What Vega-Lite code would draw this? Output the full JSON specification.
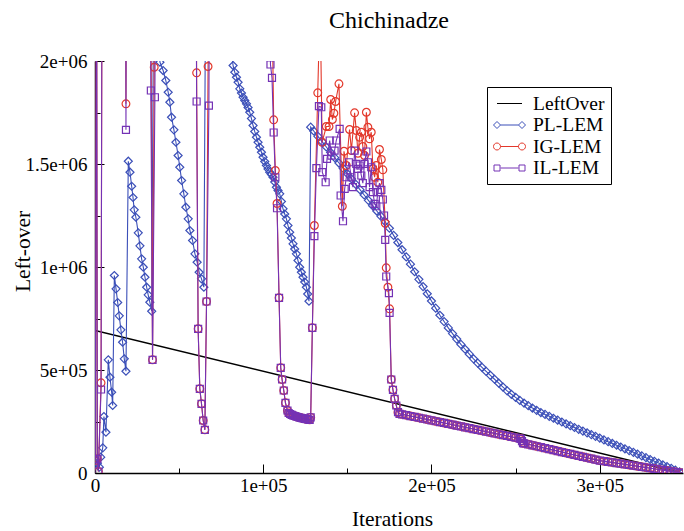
{
"$schema": "https://vega.github.io/schema/vega-lite/v6.json",
"width": 588, "height": 412,
"autosize": {"type": "none"},
"padding": {"left": 95, "top": 61, "right": 1, "bottom": 58},
"background": "white",
"title": {"text": "Chichinadze", "font": "Liberation Serif", "fontSize": 24, "fontWeight": "normal", "color": "black", "anchor": "middle", "frame": "group", "baseline": "alphabetic", "offset": 0},
"config": {"view": {"stroke": null}, "axis": {"labelFont": "Liberation Serif", "labelFontSize": 19, "labelColor": "black", "titleFont": "Liberation Serif", "titleFontSize": 21.5, "titleFontWeight": "normal", "titleColor": "black", "domainColor": "black", "domainWidth": 1.5, "tickColor": "black", "tickWidth": 1, "grid": false, "labelFlush": false, "labelOverlap": false}},
"datasets": {"rows": [
{"series":"LeftOver","iter":0,"left":692000},{"series":"LeftOver","iter":348600,"left":0},
{"series":"PL-LEM","iter":100,"left":66000},{"series":"PL-LEM","iter":1400,"left":47600},{"series":"PL-LEM","iter":2600,"left":28200},{"series":"PL-LEM","iter":3400,"left":76700},{"series":"PL-LEM","iter":4600,"left":122300},{"series":"PL-LEM","iter":5300,"left":274300},{"series":"PL-LEM","iter":6500,"left":198000},{"series":"PL-LEM","iter":7900,"left":549500},{"series":"PL-LEM","iter":8900,"left":465000},{"series":"PL-LEM","iter":9900,"left":392200},{"series":"PL-LEM","iter":10500,"left":327600},{"series":"PL-LEM","iter":11500,"left":958700},{"series":"PL-LEM","iter":12500,"left":894100},{"series":"PL-LEM","iter":13500,"left":827600},{"series":"PL-LEM","iter":14400,"left":763000},{"series":"PL-LEM","iter":15400,"left":695100},{"series":"PL-LEM","iter":16400,"left":634900},{"series":"PL-LEM","iter":17400,"left":554300},{"series":"PL-LEM","iter":18400,"left":494100},
{"series":"PL-LEM","iter":19800,"left":1513500},{"series":"PL-LEM","iter":20800,"left":1460100},{"series":"PL-LEM","iter":21800,"left":1392100},{"series":"PL-LEM","iter":22600,"left":1337300},{"series":"PL-LEM","iter":23300,"left":1277600},{"series":"PL-LEM","iter":24300,"left":1241600},{"series":"PL-LEM","iter":25700,"left":1165900},{"series":"PL-LEM","iter":26700,"left":1102800},{"series":"PL-LEM","iter":27700,"left":1039700},{"series":"PL-LEM","iter":28700,"left":999000},{"series":"PL-LEM","iter":29700,"left":950400},{"series":"PL-LEM","iter":30700,"left":901900},{"series":"PL-LEM","iter":31600,"left":865000},{"series":"PL-LEM","iter":32600,"left":829100},{"series":"PL-LEM","iter":33700,"left":785400},{"series":"PL-LEM","iter":35300,"left":3000000},
{"series":"PL-LEM","iter":38600,"left":1994000},{"series":"PL-LEM","iter":40500,"left":1953700},{"series":"PL-LEM","iter":42100,"left":1905200},{"series":"PL-LEM","iter":43500,"left":1848400},{"series":"PL-LEM","iter":44500,"left":1799900},{"series":"PL-LEM","iter":45500,"left":1727100},{"series":"PL-LEM","iter":46900,"left":1665900},{"series":"PL-LEM","iter":48100,"left":1605700},{"series":"PL-LEM","iter":49400,"left":1541100},{"series":"PL-LEM","iter":50400,"left":1484300},{"series":"PL-LEM","iter":51500,"left":1419800},{"series":"PL-LEM","iter":52800,"left":1355200},{"series":"PL-LEM","iter":54000,"left":1290200},{"series":"PL-LEM","iter":55400,"left":1233900},{"series":"PL-LEM","iter":56400,"left":1177100},{"series":"PL-LEM","iter":58000,"left":1128600},{"series":"PL-LEM","iter":59400,"left":1064000},{"series":"PL-LEM","iter":60700,"left":1023200},{"series":"PL-LEM","iter":61900,"left":974700},{"series":"PL-LEM","iter":63300,"left":942600},{"series":"PL-LEM","iter":64700,"left":901900},{"series":"PL-LEM","iter":66200,"left":3000000},
{"series":"PL-LEM","iter":82080,"left":1978000},{"series":"PL-LEM","iter":83090,"left":1945500},{"series":"PL-LEM","iter":84100,"left":1921200},{"series":"PL-LEM","iter":85050,"left":1897000},{"series":"PL-LEM","iter":86060,"left":1864900},{"series":"PL-LEM","iter":87070,"left":1844500},{"series":"PL-LEM","iter":88020,"left":1824100},{"series":"PL-LEM","iter":89030,"left":1808100},{"series":"PL-LEM","iter":90030,"left":1792100},{"series":"PL-LEM","iter":90990,"left":1774100},{"series":"PL-LEM","iter":91990,"left":1751300},{"series":"PL-LEM","iter":93000,"left":1720700},{"series":"PL-LEM","iter":93950,"left":1686800},{"series":"PL-LEM","iter":94960,"left":1657600},{"series":"PL-LEM","iter":95970,"left":1630000},{"series":"PL-LEM","iter":96920,"left":1605700},{"series":"PL-LEM","iter":97930,"left":1581400},{"series":"PL-LEM","iter":98940,"left":1557200},{"series":"PL-LEM","iter":99890,"left":1532900},{"series":"PL-LEM","iter":100900,"left":1512000},{"series":"PL-LEM","iter":101900,"left":1492600},{"series":"PL-LEM","iter":102850,"left":1475600},{"series":"PL-LEM","iter":103860,"left":1460100},{"series":"PL-LEM","iter":104870,"left":1448900},{"series":"PL-LEM","iter":105820,"left":1435800},{"series":"PL-LEM","iter":106830,"left":1412500},{"series":"PL-LEM","iter":107840,"left":1387300},{"series":"PL-LEM","iter":108790,"left":1371300},{"series":"PL-LEM","iter":109800,"left":1355200},{"series":"PL-LEM","iter":110810,"left":1317900},{"series":"PL-LEM","iter":111760,"left":1282400},{"series":"PL-LEM","iter":112770,"left":1257200},{"series":"PL-LEM","iter":113770,"left":1233900},{"series":"PL-LEM","iter":114720,"left":1201400},{"series":"PL-LEM","iter":115730,"left":1168800},{"series":"PL-LEM","iter":116740,"left":1140700},{"series":"PL-LEM","iter":117690,"left":1112500},{"series":"PL-LEM","iter":118700,"left":1087300},{"series":"PL-LEM","iter":119710,"left":1064000},{"series":"PL-LEM","iter":120660,"left":1031500},{"series":"PL-LEM","iter":121670,"left":999000},{"series":"PL-LEM","iter":122680,"left":974700},{"series":"PL-LEM","iter":123630,"left":950400},{"series":"PL-LEM","iter":124640,"left":927100},{"series":"PL-LEM","iter":125650,"left":901900},{"series":"PL-LEM","iter":126420,"left":868900},{"series":"PL-LEM","iter":127190,"left":833900},
{"series":"PL-LEM","iter":128200,"left":1678700},{"series":"PL-LEM","iter":130000,"left":1660100},{"series":"PL-LEM","iter":132500,"left":1634200},{"series":"PL-LEM","iter":135000,"left":1608300},{"series":"PL-LEM","iter":137500,"left":1582400},{"series":"PL-LEM","iter":140000,"left":1556500},{"series":"PL-LEM","iter":142500,"left":1530600},{"series":"PL-LEM","iter":145000,"left":1504700},{"series":"PL-LEM","iter":147500,"left":1478800},{"series":"PL-LEM","iter":150000,"left":1452900},{"series":"PL-LEM","iter":152500,"left":1427100},{"series":"PL-LEM","iter":155000,"left":1401200},{"series":"PL-LEM","iter":157500,"left":1375300},{"series":"PL-LEM","iter":160000,"left":1349400},{"series":"PL-LEM","iter":162500,"left":1323500},{"series":"PL-LEM","iter":165000,"left":1297600},{"series":"PL-LEM","iter":167500,"left":1271700},{"series":"PL-LEM","iter":170000,"left":1245800},{"series":"PL-LEM","iter":172500,"left":1219900},{"series":"PL-LEM","iter":175000,"left":1188100},{"series":"PL-LEM","iter":177500,"left":1153400},{"series":"PL-LEM","iter":180000,"left":1118700},{"series":"PL-LEM","iter":182500,"left":1083900},{"series":"PL-LEM","iter":185000,"left":1049100},{"series":"PL-LEM","iter":187500,"left":1013800},{"series":"PL-LEM","iter":190000,"left":976900},{"series":"PL-LEM","iter":192500,"left":940000},{"series":"PL-LEM","iter":195000,"left":904800},{"series":"PL-LEM","iter":197500,"left":870000},{"series":"PL-LEM","iter":200000,"left":835100},{"series":"PL-LEM","iter":202500,"left":800300},{"series":"PL-LEM","iter":205000,"left":765900},{"series":"PL-LEM","iter":207500,"left":735100},{"series":"PL-LEM","iter":210000,"left":704400},{"series":"PL-LEM","iter":212500,"left":676600},{"series":"PL-LEM","iter":215000,"left":649900},{"series":"PL-LEM","iter":217500,"left":624300},{"series":"PL-LEM","iter":220000,"left":600700},{"series":"PL-LEM","iter":222500,"left":577000},{"series":"PL-LEM","iter":225000,"left":554200},{"series":"PL-LEM","iter":227500,"left":533700},{"series":"PL-LEM","iter":230000,"left":513200},{"series":"PL-LEM","iter":232500,"left":493300},{"series":"PL-LEM","iter":235000,"left":474200},{"series":"PL-LEM","iter":237500,"left":455000},{"series":"PL-LEM","iter":240000,"left":435900},{"series":"PL-LEM","iter":242500,"left":417300},{"series":"PL-LEM","iter":245000,"left":398900},{"series":"PL-LEM","iter":247500,"left":382100},{"series":"PL-LEM","iter":250000,"left":367200},{"series":"PL-LEM","iter":252500,"left":352300},{"series":"PL-LEM","iter":255000,"left":339500},{"series":"PL-LEM","iter":257500,"left":327000},{"series":"PL-LEM","iter":260000,"left":315400},{"series":"PL-LEM","iter":262500,"left":304100},{"series":"PL-LEM","iter":265000,"left":293500},{"series":"PL-LEM","iter":267500,"left":284300},{"series":"PL-LEM","iter":270000,"left":275100},{"series":"PL-LEM","iter":272500,"left":265900},{"series":"PL-LEM","iter":275000,"left":256600},{"series":"PL-LEM","iter":277500,"left":247600},{"series":"PL-LEM","iter":280000,"left":238700},{"series":"PL-LEM","iter":282500,"left":229700},{"series":"PL-LEM","iter":285000,"left":220800},{"series":"PL-LEM","iter":287500,"left":211900},{"series":"PL-LEM","iter":290000,"left":203400},{"series":"PL-LEM","iter":292500,"left":194900},{"series":"PL-LEM","iter":295000,"left":186400},{"series":"PL-LEM","iter":297500,"left":177900},{"series":"PL-LEM","iter":300000,"left":169300},{"series":"PL-LEM","iter":302500,"left":160700},{"series":"PL-LEM","iter":305000,"left":152000},{"series":"PL-LEM","iter":307500,"left":143400},{"series":"PL-LEM","iter":310000,"left":134800},{"series":"PL-LEM","iter":312500,"left":126100},{"series":"PL-LEM","iter":315000,"left":117500},{"series":"PL-LEM","iter":317500,"left":108800},{"series":"PL-LEM","iter":320000,"left":100200},{"series":"PL-LEM","iter":322500,"left":91600},{"series":"PL-LEM","iter":325000,"left":82900},{"series":"PL-LEM","iter":327500,"left":74300},{"series":"PL-LEM","iter":330000,"left":65600},{"series":"PL-LEM","iter":332500,"left":57000},{"series":"PL-LEM","iter":335000,"left":48400},{"series":"PL-LEM","iter":337500,"left":39700},{"series":"PL-LEM","iter":340000,"left":31100},{"series":"PL-LEM","iter":342500,"left":22500},{"series":"PL-LEM","iter":345000,"left":13800},{"series":"PL-LEM","iter":347500,"left":5200},{"series":"PL-LEM","iter":349000,"left":0},
{"series":"IG-LEM","iter":200,"left":60700},{"series":"IG-LEM","iter":900,"left":3000000},{"series":"IG-LEM","iter":1400,"left":68900},{"series":"IG-LEM","iter":2000,"left":7300},{"series":"IG-LEM","iter":3600,"left":437800},{"series":"IG-LEM","iter":4300,"left":3000000},{"series":"IG-LEM","iter":18100,"left":3000000},{"series":"IG-LEM","iter":18400,"left":1792100},{"series":"IG-LEM","iter":18800,"left":3000000},{"series":"IG-LEM","iter":32900,"left":3000000},{"series":"IG-LEM","iter":33200,"left":2300000},{"series":"IG-LEM","iter":34200,"left":549500},{"series":"IG-LEM","iter":35200,"left":1969800},{"series":"IG-LEM","iter":36200,"left":3000000},{"series":"IG-LEM","iter":59900,"left":3000000},{"series":"IG-LEM","iter":60400,"left":1942600},{"series":"IG-LEM","iter":61300,"left":700000},{"series":"IG-LEM","iter":62300,"left":408700},{"series":"IG-LEM","iter":63300,"left":335900},{"series":"IG-LEM","iter":64300,"left":254800},{"series":"IG-LEM","iter":65300,"left":209700},{"series":"IG-LEM","iter":66300,"left":832500},{"series":"IG-LEM","iter":67200,"left":1973200},{"series":"IG-LEM","iter":68300,"left":3000000},{"series":"IG-LEM","iter":103900,"left":3000000},{"series":"IG-LEM","iter":105200,"left":2300000},{"series":"IG-LEM","iter":106200,"left":1714400},{"series":"IG-LEM","iter":107200,"left":1468300},{"series":"IG-LEM","iter":108200,"left":1308100},{"series":"IG-LEM","iter":109400,"left":850400},{"series":"IG-LEM","iter":110400,"left":510700},{"series":"IG-LEM","iter":111200,"left":453800},{"series":"IG-LEM","iter":112200,"left":400500},{"series":"IG-LEM","iter":113200,"left":340800},{"series":"IG-LEM","iter":114400,"left":303400},{"series":"IG-LEM","iter":115100,"left":291200},{"series":"IG-LEM","iter":116000,"left":286400},{"series":"IG-LEM","iter":116900,"left":282500},{"series":"IG-LEM","iter":117800,"left":279100},{"series":"IG-LEM","iter":118700,"left":276700},{"series":"IG-LEM","iter":119600,"left":274200},{"series":"IG-LEM","iter":120500,"left":271800},{"series":"IG-LEM","iter":121400,"left":269400},{"series":"IG-LEM","iter":122300,"left":267900},{"series":"IG-LEM","iter":123200,"left":266000},{"series":"IG-LEM","iter":124000,"left":264500},{"series":"IG-LEM","iter":124900,"left":263100},{"series":"IG-LEM","iter":125800,"left":261100},{"series":"IG-LEM","iter":126700,"left":259700},{"series":"IG-LEM","iter":127600,"left":258200},{"series":"IG-LEM","iter":128200,"left":270000},{"series":"IG-LEM","iter":129200,"left":704800},{"series":"IG-LEM","iter":130400,"left":1201400},{"series":"IG-LEM","iter":132400,"left":1845500},{"series":"IG-LEM","iter":133800,"left":2300000},{"series":"IG-LEM","iter":135000,"left":1605700},{"series":"IG-LEM","iter":137500,"left":1681900},{"series":"IG-LEM","iter":139100,"left":1681900},{"series":"IG-LEM","iter":140100,"left":1813000},{"series":"IG-LEM","iter":141100,"left":1715900},{"series":"IG-LEM","iter":142000,"left":1746500},{"series":"IG-LEM","iter":143000,"left":1803300},{"series":"IG-LEM","iter":145000,"left":1889200},{"series":"IG-LEM","iter":147000,"left":1295000},{"series":"IG-LEM","iter":148000,"left":1562000},{"series":"IG-LEM","iter":149400,"left":1492600},{"series":"IG-LEM","iter":151300,"left":1667300},{"series":"IG-LEM","iter":152400,"left":1565400},{"series":"IG-LEM","iter":154300,"left":1748400},{"series":"IG-LEM","iter":155300,"left":1662500},{"series":"IG-LEM","iter":156300,"left":1552300},{"series":"IG-LEM","iter":157300,"left":1630000},{"series":"IG-LEM","iter":158300,"left":1654300},{"series":"IG-LEM","iter":159200,"left":1584800},{"series":"IG-LEM","iter":160200,"left":1541100},{"series":"IG-LEM","iter":161300,"left":1751300},{"series":"IG-LEM","iter":162200,"left":1678500},{"series":"IG-LEM","iter":163200,"left":1622200},{"series":"IG-LEM","iter":164200,"left":1654300},{"series":"IG-LEM","iter":165200,"left":1476600},{"series":"IG-LEM","iter":166200,"left":1435800},{"series":"IG-LEM","iter":167200,"left":1492600},{"series":"IG-LEM","iter":168100,"left":1411500},{"series":"IG-LEM","iter":169100,"left":1570300},{"series":"IG-LEM","iter":170200,"left":1521700},{"series":"IG-LEM","iter":171100,"left":1471700},{"series":"IG-LEM","iter":172500,"left":1212500},{"series":"IG-LEM","iter":173100,"left":996000},{"series":"IG-LEM","iter":174100,"left":901900},{"series":"IG-LEM","iter":175100,"left":797000},{"series":"IG-LEM","iter":176100,"left":453800},{"series":"IG-LEM","iter":177100,"left":403900},{"series":"IG-LEM","iter":178100,"left":360200},{"series":"IG-LEM","iter":179100,"left":327600},{"series":"IG-LEM","iter":180100,"left":295100},
{"series":"IG-LEM","iter":181000,"left":287400},{"series":"IG-LEM","iter":182500,"left":284900},{"series":"IG-LEM","iter":185000,"left":280700},{"series":"IG-LEM","iter":187500,"left":276500},{"series":"IG-LEM","iter":190000,"left":272300},{"series":"IG-LEM","iter":192500,"left":268100},{"series":"IG-LEM","iter":195000,"left":263900},{"series":"IG-LEM","iter":197500,"left":259700},{"series":"IG-LEM","iter":200000,"left":255500},{"series":"IG-LEM","iter":202500,"left":251300},{"series":"IG-LEM","iter":205000,"left":247100},{"series":"IG-LEM","iter":207500,"left":242900},{"series":"IG-LEM","iter":210000,"left":238700},{"series":"IG-LEM","iter":212500,"left":234400},{"series":"IG-LEM","iter":215000,"left":230200},{"series":"IG-LEM","iter":217500,"left":226000},{"series":"IG-LEM","iter":220000,"left":221800},{"series":"IG-LEM","iter":222500,"left":217600},{"series":"IG-LEM","iter":225000,"left":213400},{"series":"IG-LEM","iter":227500,"left":209200},{"series":"IG-LEM","iter":230000,"left":205000},{"series":"IG-LEM","iter":232500,"left":200800},{"series":"IG-LEM","iter":235000,"left":196600},{"series":"IG-LEM","iter":237500,"left":192400},{"series":"IG-LEM","iter":240000,"left":188200},{"series":"IG-LEM","iter":242500,"left":184000},{"series":"IG-LEM","iter":245000,"left":179800},{"series":"IG-LEM","iter":247500,"left":175600},{"series":"IG-LEM","iter":250000,"left":171400},{"series":"IG-LEM","iter":252500,"left":167200},{"series":"IG-LEM","iter":253200,"left":166000},{"series":"IG-LEM","iter":253800,"left":155000},{"series":"IG-LEM","iter":254400,"left":145000},{"series":"IG-LEM","iter":255000,"left":143900},{"series":"IG-LEM","iter":257500,"left":139200},{"series":"IG-LEM","iter":260000,"left":134500},{"series":"IG-LEM","iter":262500,"left":129800},{"series":"IG-LEM","iter":265000,"left":125200},{"series":"IG-LEM","iter":267500,"left":120500},{"series":"IG-LEM","iter":270000,"left":115800},{"series":"IG-LEM","iter":272500,"left":111200},{"series":"IG-LEM","iter":275000,"left":106500},{"series":"IG-LEM","iter":277500,"left":101800},{"series":"IG-LEM","iter":280000,"left":97100},{"series":"IG-LEM","iter":282500,"left":92400},{"series":"IG-LEM","iter":285000,"left":87800},{"series":"IG-LEM","iter":287500,"left":83200},{"series":"IG-LEM","iter":290000,"left":78600},{"series":"IG-LEM","iter":292500,"left":74000},{"series":"IG-LEM","iter":295000,"left":69400},{"series":"IG-LEM","iter":297500,"left":64800},{"series":"IG-LEM","iter":300000,"left":60200},{"series":"IG-LEM","iter":302500,"left":57300},{"series":"IG-LEM","iter":305000,"left":54200},{"series":"IG-LEM","iter":307500,"left":51200},{"series":"IG-LEM","iter":310000,"left":48100},{"series":"IG-LEM","iter":312500,"left":45100},{"series":"IG-LEM","iter":315000,"left":42000},{"series":"IG-LEM","iter":317500,"left":39000},{"series":"IG-LEM","iter":320000,"left":35900},{"series":"IG-LEM","iter":322500,"left":32800},{"series":"IG-LEM","iter":325000,"left":29700},{"series":"IG-LEM","iter":327500,"left":26600},{"series":"IG-LEM","iter":330000,"left":23400},{"series":"IG-LEM","iter":332500,"left":20300},{"series":"IG-LEM","iter":335000,"left":17100},{"series":"IG-LEM","iter":337500,"left":14000},{"series":"IG-LEM","iter":340000,"left":10800},{"series":"IG-LEM","iter":342500,"left":7700},{"series":"IG-LEM","iter":345000,"left":4500},{"series":"IG-LEM","iter":347500,"left":1400},{"series":"IG-LEM","iter":348600,"left":0},
{"series":"IL-LEM","iter":200,"left":60700},{"series":"IL-LEM","iter":900,"left":3000000},{"series":"IL-LEM","iter":1400,"left":68900},{"series":"IL-LEM","iter":2000,"left":7300},{"series":"IL-LEM","iter":3600,"left":405300},{"series":"IL-LEM","iter":4300,"left":3000000},{"series":"IL-LEM","iter":18100,"left":3000000},{"series":"IL-LEM","iter":18400,"left":1665900},{"series":"IL-LEM","iter":18800,"left":3000000},{"series":"IL-LEM","iter":32900,"left":3000000},{"series":"IL-LEM","iter":33200,"left":1856700},{"series":"IL-LEM","iter":34200,"left":549500},{"series":"IL-LEM","iter":35600,"left":1824100},{"series":"IL-LEM","iter":36200,"left":3000000},{"series":"IL-LEM","iter":59900,"left":3000000},{"series":"IL-LEM","iter":60400,"left":1803300},{"series":"IL-LEM","iter":61300,"left":700000},{"series":"IL-LEM","iter":62300,"left":408700},{"series":"IL-LEM","iter":63300,"left":335900},{"series":"IL-LEM","iter":64300,"left":254800},{"series":"IL-LEM","iter":65300,"left":209700},{"series":"IL-LEM","iter":66300,"left":832500},{"series":"IL-LEM","iter":67700,"left":1783800},{"series":"IL-LEM","iter":68300,"left":3000000},{"series":"IL-LEM","iter":103900,"left":3000000},{"series":"IL-LEM","iter":104300,"left":1982900},{"series":"IL-LEM","iter":105200,"left":1918300},{"series":"IL-LEM","iter":106200,"left":1652800},{"series":"IL-LEM","iter":107200,"left":1435800},{"series":"IL-LEM","iter":108200,"left":1285300},{"series":"IL-LEM","iter":109400,"left":850400},{"series":"IL-LEM","iter":110400,"left":510700},{"series":"IL-LEM","iter":111200,"left":453800},{"series":"IL-LEM","iter":112200,"left":400500},{"series":"IL-LEM","iter":113200,"left":340800},{"series":"IL-LEM","iter":114400,"left":303400},{"series":"IL-LEM","iter":115100,"left":291200},{"series":"IL-LEM","iter":116000,"left":286400},{"series":"IL-LEM","iter":116900,"left":282500},{"series":"IL-LEM","iter":117800,"left":279100},{"series":"IL-LEM","iter":118700,"left":276700},{"series":"IL-LEM","iter":119600,"left":274200},{"series":"IL-LEM","iter":120500,"left":271800},{"series":"IL-LEM","iter":121400,"left":269400},{"series":"IL-LEM","iter":122300,"left":267900},{"series":"IL-LEM","iter":123200,"left":266000},{"series":"IL-LEM","iter":124000,"left":264500},{"series":"IL-LEM","iter":124900,"left":263100},{"series":"IL-LEM","iter":125800,"left":261100},{"series":"IL-LEM","iter":126700,"left":259700},{"series":"IL-LEM","iter":127600,"left":258200},{"series":"IL-LEM","iter":128200,"left":270000},{"series":"IL-LEM","iter":129200,"left":704800},{"series":"IL-LEM","iter":130400,"left":1149400},{"series":"IL-LEM","iter":131600,"left":1479500},{"series":"IL-LEM","iter":133100,"left":1780500},{"series":"IL-LEM","iter":134500,"left":1775600},{"series":"IL-LEM","iter":135100,"left":1460100},{"series":"IL-LEM","iter":137100,"left":1411500},{"series":"IL-LEM","iter":137900,"left":1525100},{"series":"IL-LEM","iter":139500,"left":1614000},{"series":"IL-LEM","iter":140500,"left":1541100},{"series":"IL-LEM","iter":142400,"left":1565400},{"series":"IL-LEM","iter":143400,"left":1614000},{"series":"IL-LEM","iter":145400,"left":1670700},{"series":"IL-LEM","iter":146000,"left":1347000},{"series":"IL-LEM","iter":147400,"left":1222200},{"series":"IL-LEM","iter":148400,"left":1379500},{"series":"IL-LEM","iter":149400,"left":1435800},{"series":"IL-LEM","iter":150900,"left":1508600},{"series":"IL-LEM","iter":152400,"left":1435800},{"series":"IL-LEM","iter":153300,"left":1387300},{"series":"IL-LEM","iter":154300,"left":1565400},{"series":"IL-LEM","iter":155300,"left":1500900},{"series":"IL-LEM","iter":156300,"left":1476600},{"series":"IL-LEM","iter":157300,"left":1492600},{"series":"IL-LEM","iter":158300,"left":1444100},{"series":"IL-LEM","iter":159200,"left":1406700},{"series":"IL-LEM","iter":160200,"left":1500900},{"series":"IL-LEM","iter":161300,"left":1560600},{"series":"IL-LEM","iter":162200,"left":1508600},{"series":"IL-LEM","iter":163200,"left":1387300},{"series":"IL-LEM","iter":164200,"left":1484300},{"series":"IL-LEM","iter":165200,"left":1363000},{"series":"IL-LEM","iter":166200,"left":1306700},{"series":"IL-LEM","iter":167200,"left":1295000},{"series":"IL-LEM","iter":168100,"left":1363000},{"series":"IL-LEM","iter":169100,"left":1406700},{"series":"IL-LEM","iter":170200,"left":1374700},{"series":"IL-LEM","iter":171100,"left":1327600},{"series":"IL-LEM","iter":171800,"left":1249900},{"series":"IL-LEM","iter":172500,"left":1131900},{"series":"IL-LEM","iter":173100,"left":953800},{"series":"IL-LEM","iter":174700,"left":872700},{"series":"IL-LEM","iter":175100,"left":777600},{"series":"IL-LEM","iter":176100,"left":453800},{"series":"IL-LEM","iter":177100,"left":403900},{"series":"IL-LEM","iter":178100,"left":360200},{"series":"IL-LEM","iter":179100,"left":327600},{"series":"IL-LEM","iter":180100,"left":295100},
{"series":"IL-LEM","iter":181000,"left":287400},{"series":"IL-LEM","iter":182500,"left":284900},{"series":"IL-LEM","iter":185000,"left":280700},{"series":"IL-LEM","iter":187500,"left":276500},{"series":"IL-LEM","iter":190000,"left":272300},{"series":"IL-LEM","iter":192500,"left":268100},{"series":"IL-LEM","iter":195000,"left":263900},{"series":"IL-LEM","iter":197500,"left":259700},{"series":"IL-LEM","iter":200000,"left":255500},{"series":"IL-LEM","iter":202500,"left":251300},{"series":"IL-LEM","iter":205000,"left":247100},{"series":"IL-LEM","iter":207500,"left":242900},{"series":"IL-LEM","iter":210000,"left":238700},{"series":"IL-LEM","iter":212500,"left":234400},{"series":"IL-LEM","iter":215000,"left":230200},{"series":"IL-LEM","iter":217500,"left":226000},{"series":"IL-LEM","iter":220000,"left":221800},{"series":"IL-LEM","iter":222500,"left":217600},{"series":"IL-LEM","iter":225000,"left":213400},{"series":"IL-LEM","iter":227500,"left":209200},{"series":"IL-LEM","iter":230000,"left":205000},{"series":"IL-LEM","iter":232500,"left":200800},{"series":"IL-LEM","iter":235000,"left":196600},{"series":"IL-LEM","iter":237500,"left":192400},{"series":"IL-LEM","iter":240000,"left":188200},{"series":"IL-LEM","iter":242500,"left":184000},{"series":"IL-LEM","iter":245000,"left":179800},{"series":"IL-LEM","iter":247500,"left":175600},{"series":"IL-LEM","iter":250000,"left":171400},{"series":"IL-LEM","iter":252500,"left":167200},{"series":"IL-LEM","iter":253200,"left":166000},{"series":"IL-LEM","iter":253800,"left":155000},{"series":"IL-LEM","iter":254400,"left":145000},{"series":"IL-LEM","iter":255000,"left":143900},{"series":"IL-LEM","iter":257500,"left":139200},{"series":"IL-LEM","iter":260000,"left":134500},{"series":"IL-LEM","iter":262500,"left":129800},{"series":"IL-LEM","iter":265000,"left":125200},{"series":"IL-LEM","iter":267500,"left":120500},{"series":"IL-LEM","iter":270000,"left":115800},{"series":"IL-LEM","iter":272500,"left":111200},{"series":"IL-LEM","iter":275000,"left":106500},{"series":"IL-LEM","iter":277500,"left":101800},{"series":"IL-LEM","iter":280000,"left":97100},{"series":"IL-LEM","iter":282500,"left":92400},{"series":"IL-LEM","iter":285000,"left":87800},{"series":"IL-LEM","iter":287500,"left":83200},{"series":"IL-LEM","iter":290000,"left":78600},{"series":"IL-LEM","iter":292500,"left":74000},{"series":"IL-LEM","iter":295000,"left":69400},{"series":"IL-LEM","iter":297500,"left":64800},{"series":"IL-LEM","iter":300000,"left":60200},{"series":"IL-LEM","iter":302500,"left":57300},{"series":"IL-LEM","iter":305000,"left":54200},{"series":"IL-LEM","iter":307500,"left":51200},{"series":"IL-LEM","iter":310000,"left":48100},{"series":"IL-LEM","iter":312500,"left":45100},{"series":"IL-LEM","iter":315000,"left":42000},{"series":"IL-LEM","iter":317500,"left":39000},{"series":"IL-LEM","iter":320000,"left":35900},{"series":"IL-LEM","iter":322500,"left":32800},{"series":"IL-LEM","iter":325000,"left":29700},{"series":"IL-LEM","iter":327500,"left":26600},{"series":"IL-LEM","iter":330000,"left":23400},{"series":"IL-LEM","iter":332500,"left":20300},{"series":"IL-LEM","iter":335000,"left":17100},{"series":"IL-LEM","iter":337500,"left":14000},{"series":"IL-LEM","iter":340000,"left":10800},{"series":"IL-LEM","iter":342500,"left":7700},{"series":"IL-LEM","iter":345000,"left":4500},{"series":"IL-LEM","iter":347500,"left":1400},{"series":"IL-LEM","iter":348600,"left":0}
]},
"data": {"name": "rows"},
"encoding": {
  "x": {"field": "iter", "type": "quantitative", "scale": {"domain": [0, 349500], "nice": false, "zero": false},
        "axis": {"title": "Iterations", "values": [0, 50000, 100000, 150000, 200000, 250000, 300000],
                 "labelExpr": "datum.value == 0 ? '0' : datum.value == 100000 ? '1e+05' : datum.value == 200000 ? '2e+05' : datum.value == 300000 ? '3e+05' : ''",
                 "tickSize": {"condition": {"test": "datum.value % 100000 === 0", "value": -9}, "value": -5},
                 "labelPadding": 27, "labelBaseline": "alphabetic", "titleBaseline": "alphabetic", "titleY": 52, "titleX": 297}},
  "y": {"field": "left", "type": "quantitative", "scale": {"domain": [0, 2000000], "nice": false},
        "axis": {"title": "Left-over", "values": [0, 250000, 500000, 750000, 1000000, 1250000, 1500000, 1750000, 2000000],
                 "labelExpr": "datum.value == 0 ? '0' : datum.value == 500000 ? '5e+05' : datum.value == 1000000 ? '1e+06' : datum.value == 1500000 ? '1.5e+06' : datum.value == 2000000 ? '2e+06' : ''",
                 "tickSize": {"condition": {"test": "datum.value % 500000 === 0", "value": -9}, "value": -5},
                 "labelPadding": 17, "titleAngle": -90, "titleBaseline": "alphabetic", "titleAlign": "center", "titleX": -66, "titleY": 190}},
  "color": {"field": "series", "type": "nominal",
            "scale": {"domain": ["LeftOver", "PL-LEM", "IG-LEM", "IL-LEM"], "range": ["#000000", "#3b4fb8", "#e3382b", "#7432b5"]},
            "legend": {"title": null, "orient": "none", "legendX": 392, "legendY": 26, "strokeColor": "black", "fillColor": "white", "padding": 6, "symbolOffset": 6, "symbolSize": 400, "symbolStrokeWidth": 1, "labelOffset": 13, "labelFont": "Liberation Serif", "labelFontSize": 19.5, "labelColor": "black", "rowPadding": 1.5,
                       "encode": {"symbols": {"update": {"shape": {"signal": "datum.value === 'LeftOver' ? 'M-1.25,0L1.25,0' : datum.value === 'PL-LEM' ? 'M-0.9,0L0.9,0M-1.6,0L-1.25,-0.35L-0.9,0L-1.25,0.35ZM0.9,0L1.25,-0.35L1.6,0L1.25,0.35Z' : datum.value === 'IG-LEM' ? 'M-0.9,0L0.9,0M-0.9,0A0.35,0.35,0,1,1,-1.6,0A0.35,0.35,0,1,1,-0.9,0ZM1.6,0A0.35,0.35,0,1,1,0.9,0A0.35,0.35,0,1,1,1.6,0Z' : 'M-0.9,0L0.9,0M-1.55,-0.3H-0.95V0.3H-1.55ZM0.95,-0.3H1.55V0.3H0.95Z'"}, "fill": {"value": "transparent"}}}}}}
},
"layer": [
  {"transform": [{"filter": "datum.series == 'LeftOver'"}], "mark": {"type": "line", "strokeWidth": 1.5, "clip": true}},
  {"transform": [{"filter": "datum.series == 'PL-LEM'"}], "mark": {"type": "line", "strokeWidth": 1.1, "clip": true}},
  {"transform": [{"filter": "datum.series == 'PL-LEM' && datum.left <= 2000000"}], "mark": {"type": "point", "shape": "diamond", "filled": false, "size": 64, "strokeWidth": 1.2, "clip": true, "opacity": 1}},
  {"transform": [{"filter": "datum.series == 'IG-LEM'"}], "mark": {"type": "line", "strokeWidth": 1.1, "clip": true}},
  {"transform": [{"filter": "datum.series == 'IG-LEM' && datum.left <= 2000000"}], "mark": {"type": "point", "shape": "circle", "filled": false, "size": 60, "strokeWidth": 1.2, "clip": true, "opacity": 1}},
  {"transform": [{"filter": "datum.series == 'IL-LEM'"}], "mark": {"type": "line", "strokeWidth": 1.1, "clip": true}},
  {"transform": [{"filter": "datum.series == 'IL-LEM' && datum.left <= 2000000"}], "mark": {"type": "point", "shape": "square", "filled": false, "size": 49, "strokeWidth": 1.2, "clip": true, "opacity": 1}}
]
}
